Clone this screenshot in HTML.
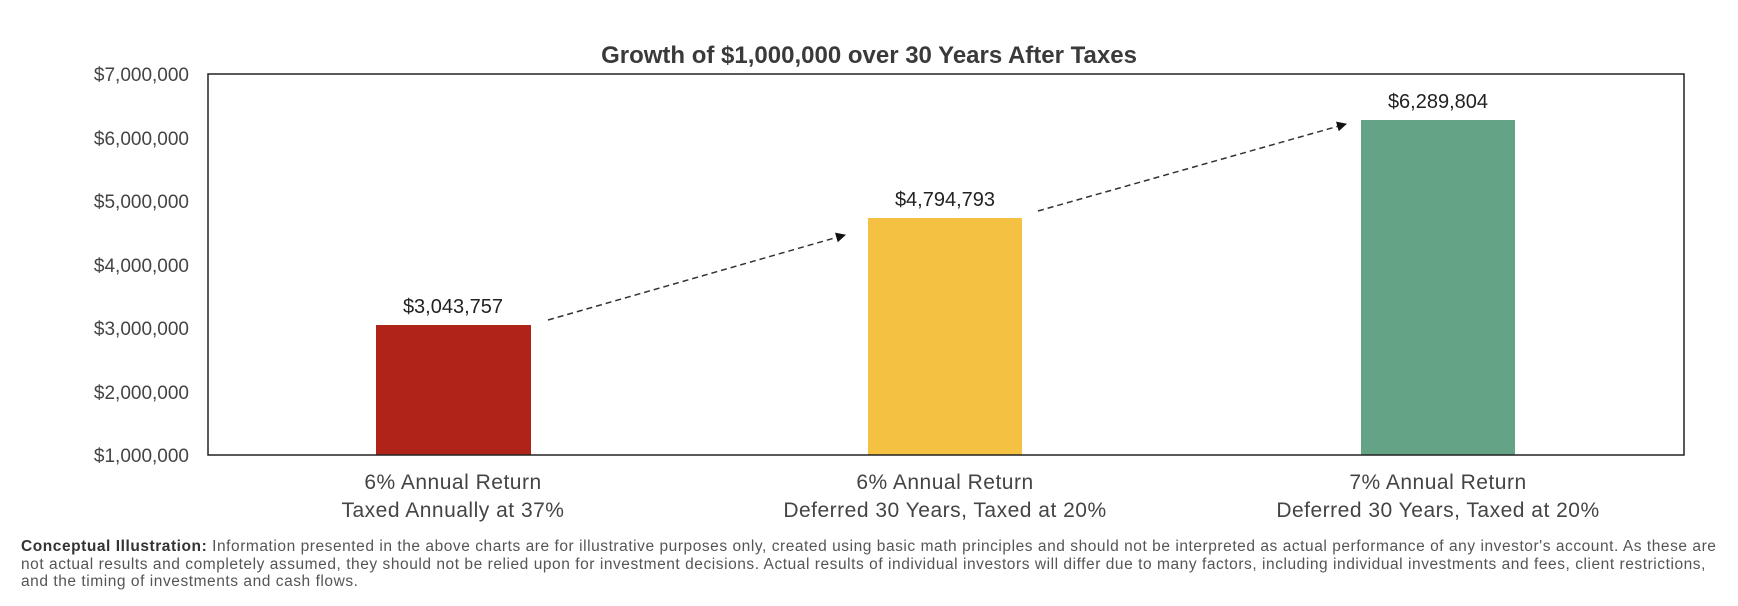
<!DOCTYPE html>
<html><head><meta charset="utf-8"><style>
body{margin:0;background:#fff;width:1738px;height:606px;overflow:hidden;font-family:"Liberation Sans",sans-serif;}
.foot{position:absolute;left:21px;top:538px;white-space:nowrap;font-size:15.5px;letter-spacing:0.55px;line-height:17.5px;color:#555;}
.foot b{color:#333;}
</style></head><body>
<svg width="1738" height="606" style="position:absolute;left:0;top:0" font-family="Liberation Sans, sans-serif">
<defs><marker id="ah" markerWidth="10" markerHeight="10" refX="9" refY="5" orient="auto" markerUnits="userSpaceOnUse"><path d="M0,0 L10,5 L0,10 z" fill="#111"/></marker></defs>
<text x="869" y="63" text-anchor="middle" font-size="24" font-weight="bold" fill="#3a3a3a">Growth of $1,000,000 over 30 Years After Taxes</text>
<g font-size="19" fill="#444" text-anchor="end">
<text x="189" y="81">$7,000,000</text>
<text x="189" y="145">$6,000,000</text>
<text x="189" y="208">$5,000,000</text>
<text x="189" y="272">$4,000,000</text>
<text x="189" y="335">$3,000,000</text>
<text x="189" y="399">$2,000,000</text>
<text x="189" y="462">$1,000,000</text>
</g>
<rect x="376" y="325" width="155" height="130" fill="#b02318"/>
<rect x="868" y="218" width="154" height="237" fill="#f4c143"/>
<rect x="1361" y="120" width="154" height="335" fill="#64a385"/>
<rect x="208" y="74" width="1476" height="381" fill="none" stroke="#222" stroke-width="1.5"/>
<g font-size="20" fill="#222" text-anchor="middle">
<text x="453" y="313">$3,043,757</text>
<text x="945" y="206">$4,794,793</text>
<text x="1438" y="108">$6,289,804</text>
</g>
<line x1="548" y1="320" x2="845" y2="235" stroke="#333" stroke-width="1.5" stroke-dasharray="6,4" marker-end="url(#ah)"/>
<line x1="1038" y1="211" x2="1346" y2="124" stroke="#333" stroke-width="1.5" stroke-dasharray="6,4" marker-end="url(#ah)"/>
<g font-size="21" fill="#444" text-anchor="middle" letter-spacing="0.5">
<text x="453" y="489">6% Annual Return</text>
<text x="453" y="517">Taxed Annually at 37%</text>
<text x="945" y="489">6% Annual Return</text>
<text x="945" y="517">Deferred 30 Years, Taxed at 20%</text>
<text x="1438" y="489">7% Annual Return</text>
<text x="1438" y="517">Deferred 30 Years, Taxed at 20%</text>
</g>
</svg>
<div class="foot"><b>Conceptual Illustration:</b> Information presented in the above charts are for illustrative purposes only, created using basic math principles and should not be interpreted as actual performance of any investor's account. As these are<br>not actual results and completely assumed, they should not be relied upon for investment decisions. Actual results of individual investors will differ due to many factors, including individual investments and fees, client restrictions,<br>and the timing of investments and cash flows.</div>
</body></html>
